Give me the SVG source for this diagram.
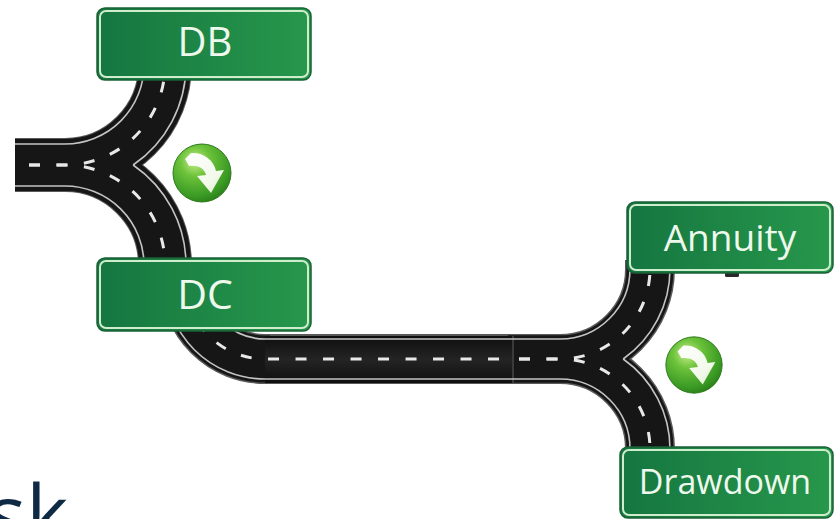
<svg xmlns="http://www.w3.org/2000/svg" width="835" height="519" viewBox="0 0 835 519">
  <style>
    .rim { fill: none; stroke: #5a5a5a; stroke-linecap: butt; }
    .tar { fill: none; stroke: #161616; stroke-linecap: butt; }
    .edge { fill: none; stroke: #c4c4c4; stroke-width: 1.6; }
    .dash { fill: none; stroke: #e8e8e8; stroke-width: 3; stroke-dasharray: 11 16.5; }
    .plate { fill: url(#plateFill); stroke: #1a6236; stroke-width: 1.5; }
    .trim { fill: none; stroke: #cfeccd; stroke-width: 2; }
    .label { font-family: "Open Sans", "Liberation Sans", sans-serif; fill: #eef8ec; text-anchor: middle; }
    .ball { fill: url(#ballFill); stroke: #2c7a1c; stroke-width: 1; }
    .turn { fill: url(#arrowFill); }
  </style>
  <defs>
    <linearGradient id="plateFill" x1="0" y1="0" x2="1" y2="0">
      <stop offset="0" stop-color="#157640"/>
      <stop offset="1" stop-color="#27984c"/>
    </linearGradient>
    <linearGradient id="slab" x1="0" y1="0" x2="0" y2="1">
      <stop offset="0" stop-color="#0e0e0e"/>
      <stop offset="0.5" stop-color="#242424"/>
      <stop offset="1" stop-color="#0e0e0e"/>
    </linearGradient>
    <radialGradient id="ballFill" cx="0.38" cy="0.3" r="0.75">
      <stop offset="0" stop-color="#c6ef8a"/>
      <stop offset="0.35" stop-color="#6cc23a"/>
      <stop offset="0.8" stop-color="#3a9a24"/>
      <stop offset="1" stop-color="#2a7d18"/>
    </radialGradient>
    <linearGradient id="arrowFill" x1="0" y1="0" x2="1" y2="1">
      <stop offset="0" stop-color="#ffffff"/>
      <stop offset="0.7" stop-color="#f2f9ea"/>
      <stop offset="1" stop-color="#cfe8b8"/>
    </linearGradient>
    <g id="turnBadge">
      <circle class="ball" cx="0" cy="0" r="29"/>
      <path class="turn" d="M-17,-14 L-11,-20 C1,-21 12,-13 14,-2 L22,-3 L9,20 L-5,3 L4,2 C2,-5 -4,-8 -13,-7 Z"/>
    </g>
  </defs>

  <!-- Roads -->
  <g id="connectors">
    <!-- dark fringe under all road surfaces -->
    <g class="rim" stroke-width="54">
      <path d="M15,165 H65 A100,100 0 0 0 165,65 V60"/>
      <path d="M15,165 H65 A100,100 0 0 1 165,265 V270"/>
    </g>
    <g class="rim" stroke-width="50">
      <path d="M185,270 V279 A80,80 0 0 0 265,359 H513"/>
      <path d="M513,359 H560 A90,90 0 0 0 650,269 V260"/>
      <path d="M513,359 H560 A90,90 0 0 1 650,449 V460"/>
    </g>

    <!-- asphalt -->
    <g class="tar" stroke-width="52">
      <path d="M15,165 H65 A100,100 0 0 0 165,65 V60"/>
      <path d="M15,165 H65 A100,100 0 0 1 165,265 V270"/>
    </g>
    <g class="tar" stroke-width="47">
      <path d="M185,270 V279 A80,80 0 0 0 265,359 H270"/>
      <path d="M508,359 H560 A90,90 0 0 0 650,269 V260"/>
      <path d="M508,359 H560 A90,90 0 0 1 650,449 V460"/>
    </g>
    <rect x="265" y="336" width="248" height="47" fill="url(#slab)"/>
    <line x1="513" y1="336" x2="513" y2="383" stroke="#3a3a3a" stroke-width="2"/>

    <!-- edge lines: left fork -->
    <path class="edge" d="M15,144 H65 A79,79 0 0 0 144,65 V60"/>
    <path class="edge" d="M15,186 H65 A79,79 0 0 1 144,265 V270"/>
    <path class="edge" d="M133.1,165 A121,121 0 0 0 186,65 V60"/>
    <path class="edge" d="M133.1,165 A121,121 0 0 1 186,265 V270"/>

    <!-- edge lines: connecting road -->
    <path class="edge" d="M165,279 A100,100 0 0 0 265,379 H560"/>
    <path class="edge" d="M205,279 A60,60 0 0 0 265,339 H560"/>

    <!-- edge lines: right fork -->
    <path class="edge" d="M560,339 A70,70 0 0 0 630,269 V260"/>
    <path class="edge" d="M560,379 A70,70 0 0 1 630,449 V460"/>
    <path class="edge" d="M623.2,359 A110,110 0 0 0 670,269 V260"/>
    <path class="edge" d="M623.2,359 A110,110 0 0 1 670,449 V460"/>

    <!-- centre dashes -->
    <path class="dash" stroke-dashoffset="-14" d="M15,165 H65 A100,100 0 0 0 165,65 V60"/>
    <path class="dash" stroke-dashoffset="-14" d="M15,165 H65 A100,100 0 0 1 165,265 V270"/>
    <path class="dash" stroke-width="2.6" stroke-dasharray="9 19" d="M185,270 V279 A80,80 0 0 0 265,359 H513"/>
    <path class="dash" stroke-width="2.6" stroke-dasharray="9 19" stroke-dashoffset="-6" d="M513,359 H560 A90,90 0 0 0 650,269 V260"/>
    <path class="dash" stroke-width="2.6" stroke-dasharray="9 19" stroke-dashoffset="-6" d="M513,359 H560 A90,90 0 0 1 650,449 V460"/>

    <!-- post stub under the Annuity sign -->
    <rect x="725" y="272" width="14" height="5" rx="1.5" fill="#2a2a2a"/>
  </g>

  <!-- Direction signs -->
  <g id="sign-db">
    <rect class="plate" x="97" y="8" width="214" height="72" rx="8"/>
    <rect class="trim" x="100" y="11" width="208" height="66" rx="6"/>
    <text class="label" x="205" y="56" font-size="40">DB</text>
  </g>
  <g id="sign-dc">
    <rect class="plate" x="97" y="258" width="214" height="73" rx="8"/>
    <rect class="trim" x="100" y="261" width="208" height="67" rx="6"/>
    <text class="label" x="205" y="309" font-size="41">DC</text>
  </g>
  <g id="sign-annuity">
    <rect class="plate" x="627" y="202" width="206" height="71" rx="8"/>
    <rect class="trim" x="630" y="205" width="200" height="65" rx="6"/>
    <text class="label" x="730" y="251" font-size="37">Annuity</text>
  </g>
  <g id="sign-drawdown">
    <rect class="plate" x="620" y="447" width="213" height="71" rx="8"/>
    <rect class="trim" x="623" y="450" width="207" height="65" rx="6"/>
    <text class="label" x="725" y="494" font-size="34">Drawdown</text>
  </g>

  <!-- Turn badges beside each fork -->
  <g id="turn-upper">
    <use href="#turnBadge" x="202" y="173"/>
  </g>
  <g id="turn-lower">
    <use href="#turnBadge" x="694" y="365" transform="translate(694 365) scale(0.97) translate(-694 -365)"/>
  </g>

  <!-- Title text running off the bottom edge -->
  <text x="-12" y="543" font-family="'Open Sans', 'Liberation Sans', sans-serif" font-size="80" fill="#0f2a45">sk</text>
</svg>
